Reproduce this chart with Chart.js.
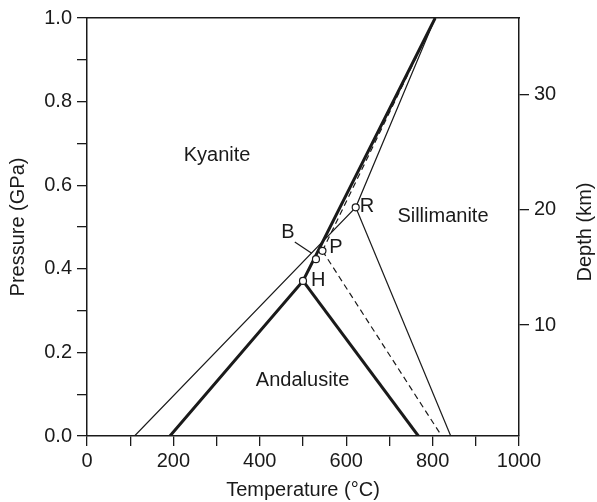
<!DOCTYPE html>
<html>
<head>
<meta charset="utf-8">
<script src="https://cdn.jsdelivr.net/npm/chart.js@4/dist/chart.umd.min.js"></script>
<style>
  body { margin: 0; background: #fff; }
  #wrap { width: 597px; height: 502px; }
</style>
</head>
<body>
<div id="wrap"><canvas id="chart" width="597" height="502"></canvas></div>
<script>
// axis ticks
const xTicks = [0, 100, 200, 300, 400, 500, 600, 700, 800, 900, 1000];
const xTickLabels = ['0', '', '200', '', '400', '', '600', '', '800', '', '1000'];
const yTicks = [0, 0.1, 0.2, 0.3, 0.4, 0.5, 0.6, 0.7, 0.8, 0.9, 1.0];
const yTickLabels = ['0.0', '', '0.2', '', '0.4', '', '0.6', '', '0.8', '', '1.0'];
const depthTicks = [10, 20, 30];
const depthMin = 0.4;
const depthMax = 36.6;

// thick lines (T in °C, P in GPa)
const thickKyT = [192, 500, 806];
const thickKyP = [0, 0.371, 1.0];
const thickAndSilT = [500, 767];
const thickAndSilP = [0.371, 0];

// thin lines
const thinKyT = [110, 622, 806];
const thinKyP = [0, 0.547, 1.0];
const thinAndSilT = [622, 842];
const thinAndSilP = [0.547, 0];

// dashed lines
const dashKySilT = [545, 806];
const dashKySilP = [0.443, 1.0];
const dashAndSilT = [545, 821];
const dashAndSilP = [0.443, 0];

// leader for B
const leaderT = [481, 520];
const leaderP = [0.464, 0.437];

// triple points
const pointNames = ['B', 'P', 'H', 'R'];
const pointT = [530, 545, 500, 622];
const pointP = [0.423, 0.443, 0.371, 0.547];

// text labels
const labelTexts = ['Kyanite', 'Sillimanite', 'Andalusite', 'B', 'P', 'H', 'R'];
const labelT = [301, 824, 499, 465, 576, 535, 648];
const labelP = [0.670, 0.525, 0.132, 0.486, 0.45, 0.373, 0.548];

const FONT = "'Liberation Sans', Arial, Helvetica, sans-serif";
const INK = '#1a1a1a';

function pts(xs, ys) {
    return xs.map((x, i) => ({ x: x, y: ys[i] }));
}

function lineSet(xs, ys, width, dash) {
    return {
        type: 'line',
        data: pts(xs, ys),
        borderColor: INK,
        borderWidth: width,
        borderDash: dash || [],
        pointRadius: 0,
        fill: false,
        tension: 0,
        order: 1
    };
}

const labelPlugin = {
    id: 'labels',
    afterDatasetsDraw(chart) {
        const ctx = chart.ctx;
        const xs = chart.scales.x;
        const ys = chart.scales.y;
        ctx.save();
        ctx.fillStyle = INK;
        ctx.font = '20px ' + FONT;
        ctx.textAlign = 'center';
        ctx.textBaseline = 'middle';
        labelTexts.forEach((t, i) => {
            ctx.fillText(t, xs.getPixelForValue(labelT[i]), ys.getPixelForValue(labelP[i]));
        });
        // right axis title, reading upward
        ctx.translate(585, 232);
        ctx.rotate(-Math.PI / 2);
        ctx.fillText('Depth (km)', 0, 0);
        ctx.restore();
    }
};

const tickGrid = { drawOnChartArea: false, drawTicks: true, tickLength: 10, color: INK, lineWidth: 1.3 };
const axisBorder = { display: true, color: INK, width: 1.5 };
const tickFont = { family: FONT, size: 20 };

new Chart(document.getElementById('chart'), {
    type: 'line',
    data: {
        datasets: [
            {
                type: 'scatter',
                data: pts(pointT, pointP),
                showLine: false,
                pointRadius: 3.5,
                pointBackgroundColor: '#fff',
                pointBorderColor: INK,
                pointBorderWidth: 1.2,
                order: 0
            },
            lineSet(thickKyT, thickKyP, 3),
            lineSet(thickAndSilT, thickAndSilP, 3),
            lineSet(thinKyT, thinKyP, 1.2),
            lineSet(thinAndSilT, thinAndSilP, 1.2),
            lineSet(dashKySilT, dashKySilP, 1.2, [6, 4]),
            lineSet(dashAndSilT, dashAndSilP, 1.2, [6, 4]),
            lineSet(leaderT, leaderP, 1.2)
        ]
    },
    options: {
        responsive: false,
        animation: false,
        layout: { padding: { top: 18 } },
        plugins: { legend: { display: false }, tooltip: { enabled: false } },
        scales: {
            x: {
                type: 'linear',
                position: 'bottom',
                min: 0,
                max: 1000,
                afterBuildTicks: (s) => { s.ticks = xTicks.map(v => ({ value: v })); },
                afterFit: (s) => { s.height = 66; },
                grid: tickGrid,
                border: axisBorder,
                ticks: {
                    autoSkip: false,
                    maxRotation: 0,
                    font: tickFont,
                    color: INK,
                    padding: 3,
                    callback: (v, i) => xTickLabels[i]
                },
                title: {
                    display: true,
                    text: 'Temperature (°C)',
                    font: tickFont,
                    color: INK,
                    padding: { top: 0, bottom: 0 }
                }
            },
            xTop: {
                type: 'linear',
                position: 'top',
                min: 0,
                max: 1000,
                afterFit: (s) => { s.height = 0; },
                grid: { drawOnChartArea: false, drawTicks: false },
                border: axisBorder,
                ticks: { display: false }
            },
            y: {
                type: 'linear',
                position: 'left',
                min: 0,
                max: 1.0,
                afterBuildTicks: (s) => { s.ticks = yTicks.map(v => ({ value: v })); },
                afterFit: (s) => { s.width = 87; },
                grid: tickGrid,
                border: axisBorder,
                ticks: {
                    autoSkip: false,
                    font: tickFont,
                    color: INK,
                    padding: 5,
                    callback: (v, i) => yTickLabels[i]
                },
                title: {
                    display: true,
                    text: 'Pressure (GPa)',
                    font: tickFont,
                    color: INK,
                    padding: { top: 6, bottom: 0 }
                }
            },
            depth: {
                type: 'linear',
                position: 'right',
                min: depthMin,
                max: depthMax,
                afterBuildTicks: (s) => { s.ticks = depthTicks.map(v => ({ value: v })); },
                afterFit: (s) => { s.width = 78; },
                grid: tickGrid,
                border: axisBorder,
                ticks: {
                    autoSkip: false,
                    font: tickFont,
                    color: INK,
                    padding: 5,
                    callback: (v) => String(v)
                }
            }
        }
    },
    plugins: [labelPlugin]
});
</script>
</body>
</html>
